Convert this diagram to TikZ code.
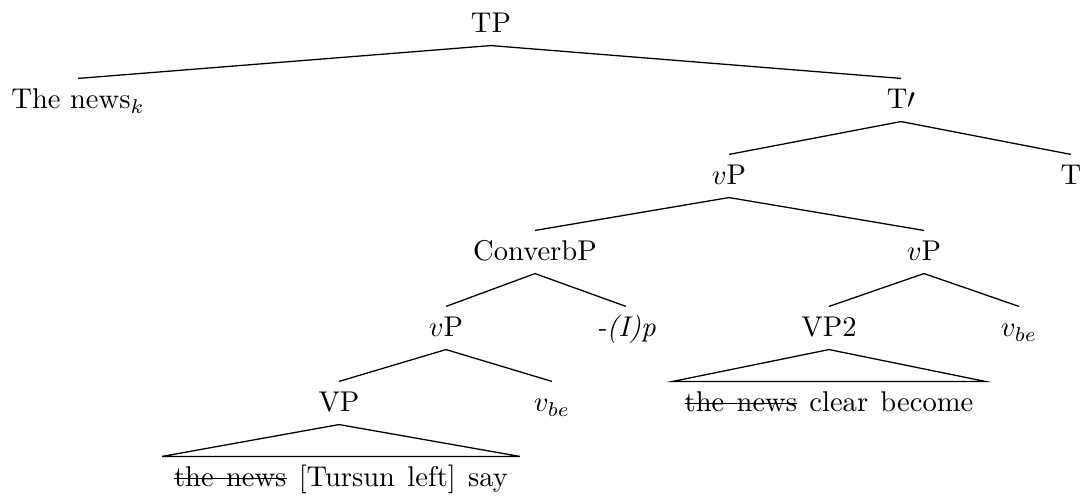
\documentclass[tikz,border=0pt]{standalone}
\newcommand\strk[1]{\setbox0\hbox{#1}\rlap{\rule[0.65ex]{\wd0}{0.45pt}}\box0\relax}
\newcommand\leafsp{\spaceskip=4.3pt plus 1pt\relax}
\begin{document}
\begin{tikzpicture}[x=0.35pt,y=-0.35pt,
  lbl/.style={anchor=base,inner sep=0pt,text height=10.5pt,text depth=4.2pt},
  leaf/.style={lbl,inner xsep=4pt,font=\leafsp},
  branch/.style={line width=0.45pt}]
\useasboundingbox (0,0) rectangle (1085,498);
% row 1
\node[lbl] (tp) at (491,33) {TP};
% row 2
\node[lbl] (news) at (78,109) {The news$_k$};
\node[lbl] (tbar) at (901,109) {T$\prime$};
% row 3
\node[lbl] (vp1) at (729,185) {$v$P};
\node[lbl] (t) at (1071,185) {T};
% row 4
\node[lbl] (conv) at (535,261) {ConverbP};
\node[lbl] (vp2) at (924,261) {$v$P};
% row 5
\node[lbl] (vp3) at (446,337) {$v$P};
\node[lbl] (ip) at (626,337) {\textit{-(I)p}};
\node[lbl] (vpb) at (829,337) {VP2};
\node[lbl] (vbe1) at (1019,337) {$v_{be}$};
% row 6
\node[lbl] (vp) at (339,412) {VP};
\node[lbl] (vbe2) at (552,412) {$v_{be}$};
\node[leaf] (leafb) at (829,412) {\strk{the news} clear become};
% row 7
\node[leaf] (leafa) at (341,487) {\strk{the news} [Tursun left] say};
% branches
\draw[branch] (tp.south) -- (news.north);
\draw[branch] (tp.south) -- (tbar.north);
\draw[branch] (tbar.south) -- (vp1.north);
\draw[branch] (tbar.south) -- (t.north);
\draw[branch] (vp1.south) -- (conv.north);
\draw[branch] (vp1.south) -- (vp2.north);
\draw[branch] (conv.south) -- (vp3.north);
\draw[branch] (conv.south) -- (ip.north);
\draw[branch] (vp2.south) -- (vpb.north);
\draw[branch] (vp2.south) -- (vbe1.north);
\draw[branch] (vp3.south) -- (vp.north);
\draw[branch] (vp3.south) -- (vbe2.north);
\draw[branch] (vpb.south) -- (leafb.north west) -- (leafb.north east) -- cycle;
\draw[branch] (vp.south) -- (leafa.north west) -- (leafa.north east) -- cycle;
\end{tikzpicture}
\end{document}
